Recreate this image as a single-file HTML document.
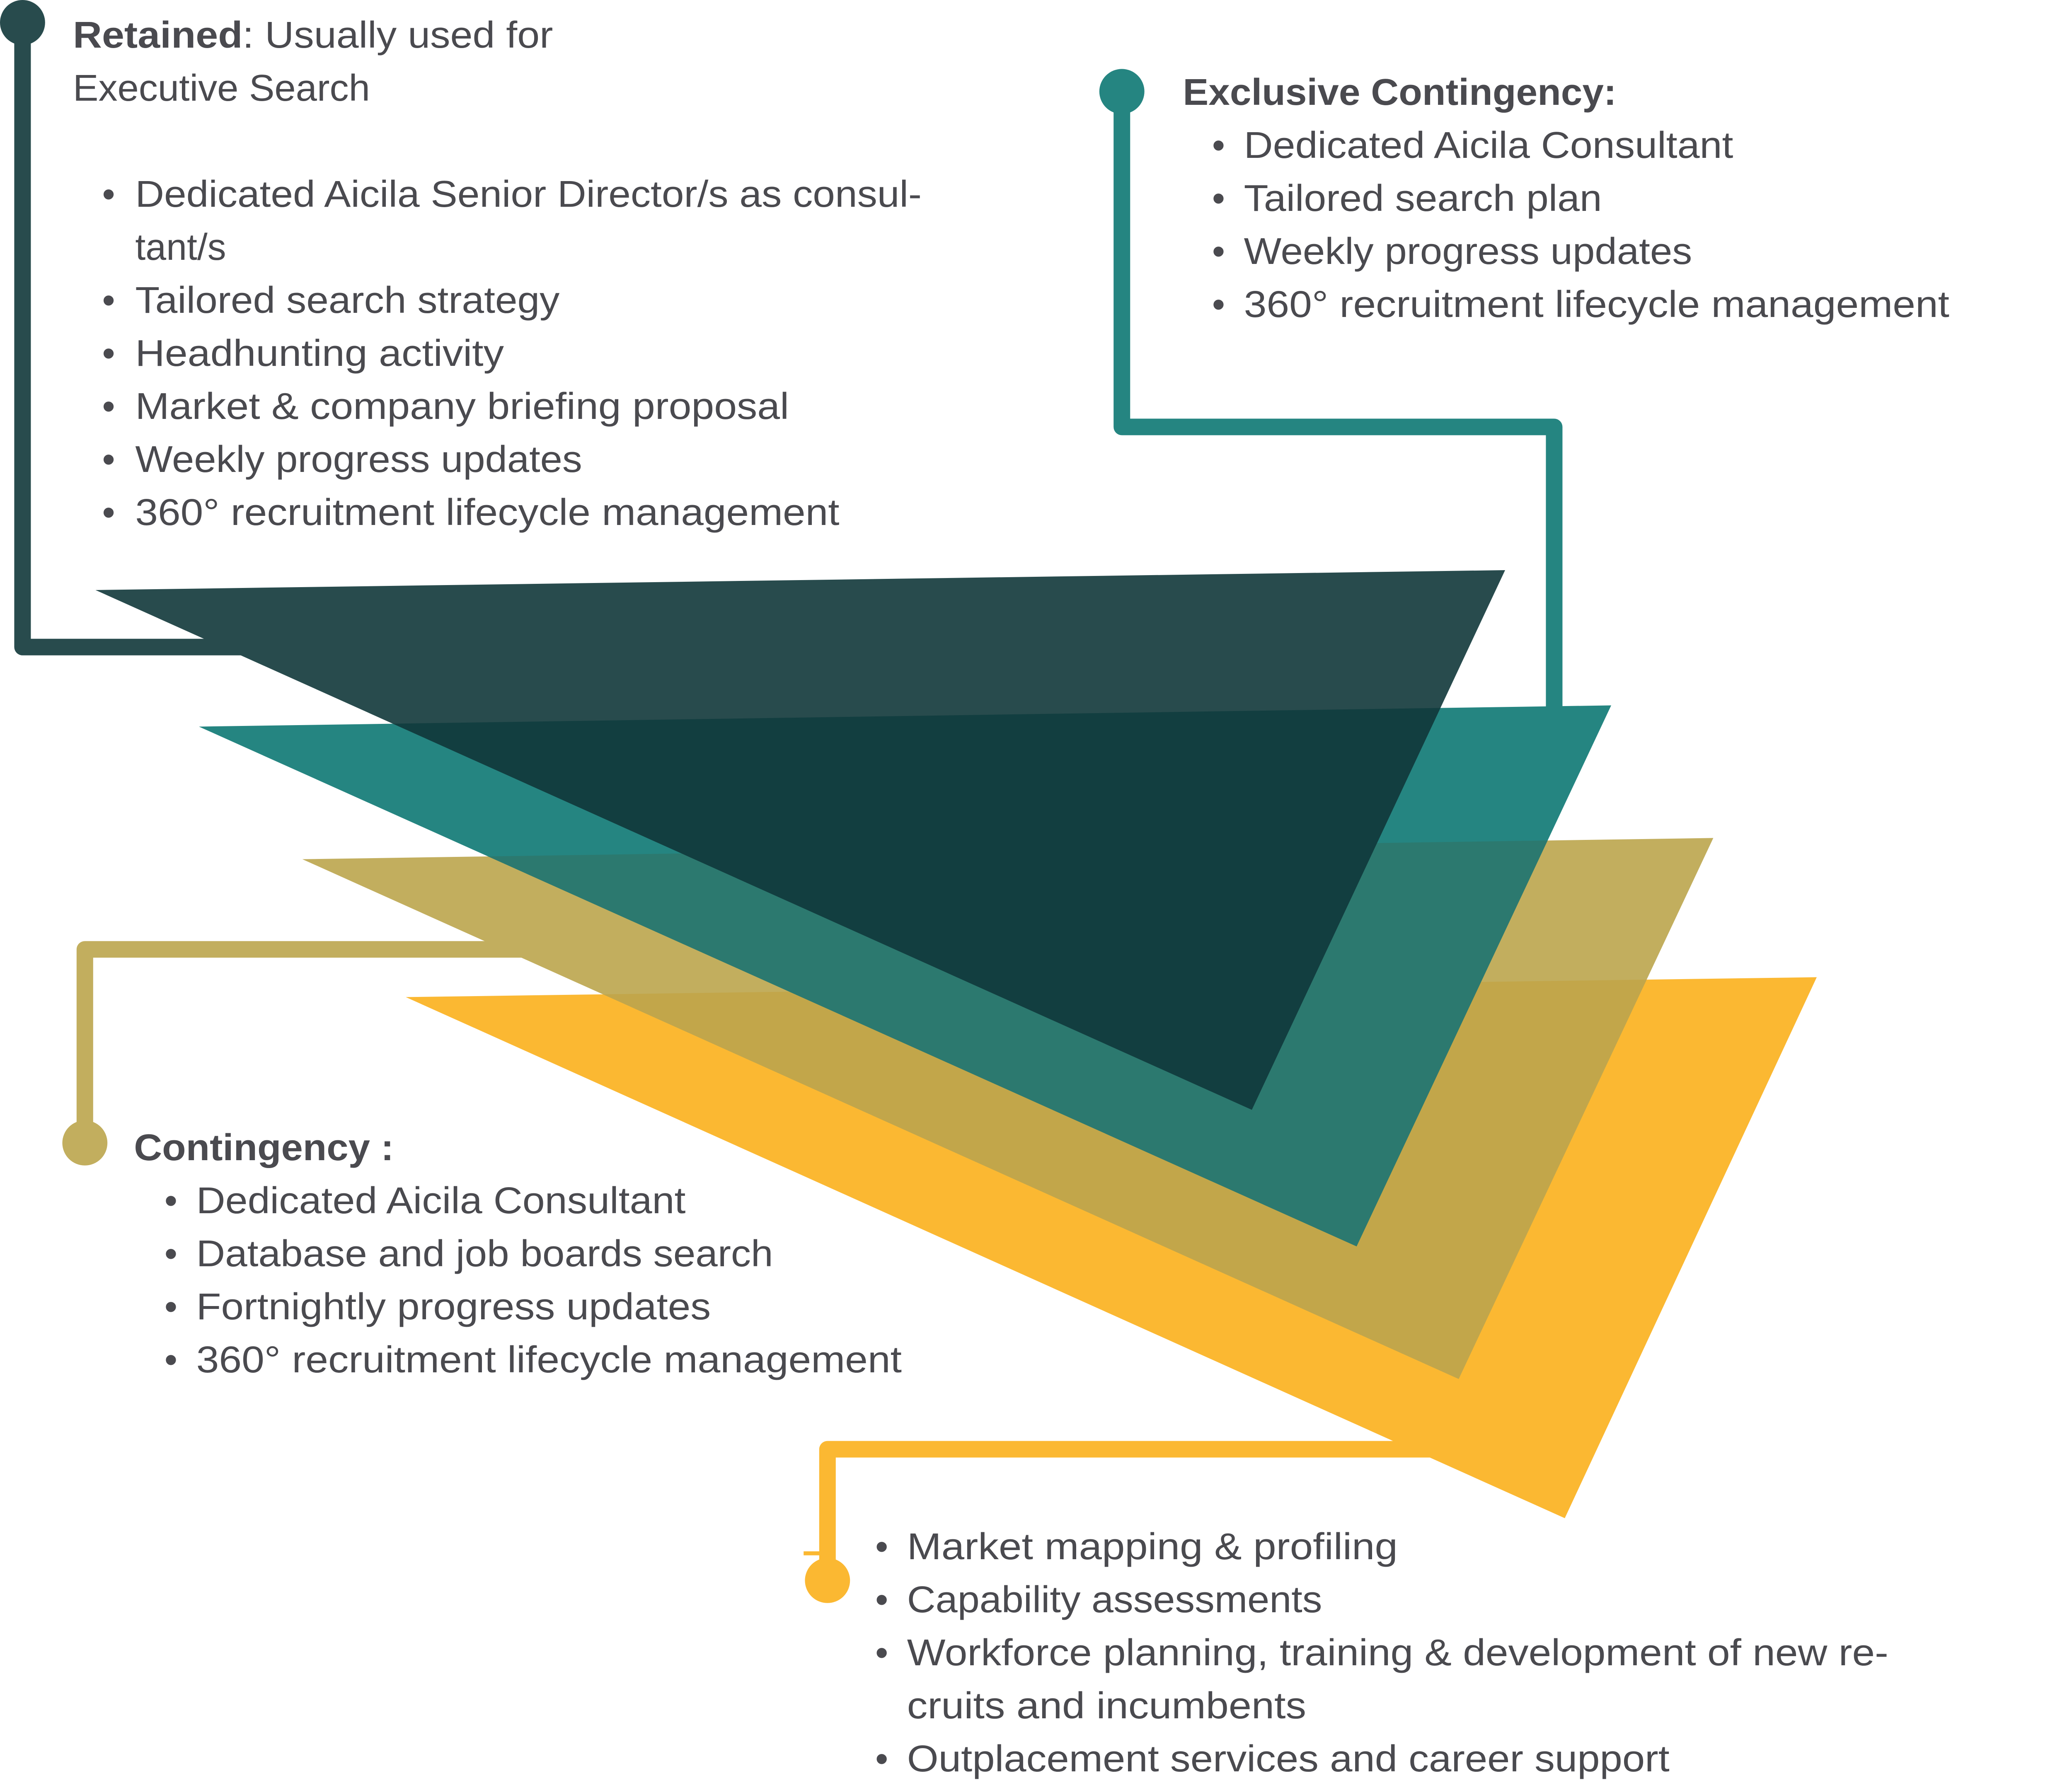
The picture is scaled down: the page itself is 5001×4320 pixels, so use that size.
<!DOCTYPE html>
<html><head><meta charset="utf-8"><style>
html,body{margin:0;padding:0;background:#fff;}
svg{display:block;}
text{font-family:"Liberation Sans","DejaVu Sans",sans-serif;font-size:28px;fill:#4a4a4f;}
.b{font-weight:bold;}
</style></head><body>
<svg width="5001" height="4320" viewBox="0 0 1562.8 1350" preserveAspectRatio="none" xmlns="http://www.w3.org/2000/svg">
<defs>
<clipPath id="cY"><polygon points="306,752 1370,737 1180,1145"/></clipPath>
<clipPath id="cOY"><polygon points="306,752 1370,737 1180,1145"/><polygon points="228,648 1292,632 1100,1040"/></clipPath>
<clipPath id="cTOY"><polygon points="306,752 1370,737 1180,1145"/><polygon points="228,648 1292,632 1100,1040"/><polygon points="150,548 1215,532 1023,940"/></clipPath>
</defs>
<g fill="none" stroke-width="12.5" stroke-linejoin="round">
<path d="M17,30 V488 H190" stroke="#284b4d"/>
<path d="M846,80 V322 H1172 V540" stroke="#258581"/>
<path d="M64,850 V716 H400" stroke="#c2ae5e"/>
<path d="M624,1180 V1093 H1085" stroke="#fbb832"/>
</g>
<circle cx="17" cy="17" r="17" fill="#284b4d"/>
<circle cx="846" cy="69" r="17" fill="#258581"/>
<circle cx="64" cy="862" r="17" fill="#c2ae5e"/>
<circle cx="624" cy="1192" r="17" fill="#fbb832"/>
<rect x="606" y="1170" width="20" height="3" fill="#fbb832"/>

<polygon points="306,752 1370,737 1180,1145" fill="#fbb832"/>
<polygon points="228,648 1292,632 1100,1040" fill="#c2ae5e"/>
<polygon points="228,648 1292,632 1100,1040" fill="#c2a64a" clip-path="url(#cY)"/>
<polygon points="150,548 1215,532 1023,940" fill="#258581"/>
<polygon points="150,548 1215,532 1023,940" fill="#2c796f" clip-path="url(#cOY)"/>
<polygon points="72,445 1135,430 944,837" fill="#284b4d"/>
<polygon points="72,445 1135,430 944,837" fill="#123e40" clip-path="url(#cTOY)"/>

<text x="55" y="36" textLength="362" lengthAdjust="spacingAndGlyphs"><tspan class="b">Retained</tspan>: Usually used for</text>
<text x="55" y="76" textLength="224" lengthAdjust="spacingAndGlyphs">Executive Search</text>
<g>
<text x="77" y="156">•</text><text x="102" y="156" textLength="593" lengthAdjust="spacingAndGlyphs">Dedicated Aicila Senior Director/s as consul-</text>
<text x="102" y="196">tant/s</text>
<text x="77" y="236">•</text><text x="102" y="236" textLength="320" lengthAdjust="spacingAndGlyphs">Tailored search strategy</text>
<text x="77" y="276">•</text><text x="102" y="276" textLength="278" lengthAdjust="spacingAndGlyphs">Headhunting activity</text>
<text x="77" y="316">•</text><text x="102" y="316" textLength="493" lengthAdjust="spacingAndGlyphs">Market &amp; company briefing proposal</text>
<text x="77" y="356">•</text><text x="102" y="356" textLength="337" lengthAdjust="spacingAndGlyphs">Weekly progress updates</text>
<text x="77" y="396">•</text><text x="102" y="396" textLength="531" lengthAdjust="spacingAndGlyphs">360° recruitment lifecycle management</text>
</g>

<text x="892" y="79" class="b" textLength="327" lengthAdjust="spacingAndGlyphs">Exclusive Contingency:</text>
<text x="914" y="119">•</text><text x="938" y="119" textLength="369" lengthAdjust="spacingAndGlyphs">Dedicated Aicila Consultant</text>
<text x="914" y="159">•</text><text x="938" y="159" textLength="270" lengthAdjust="spacingAndGlyphs">Tailored search plan</text>
<text x="914" y="199">•</text><text x="938" y="199" textLength="338" lengthAdjust="spacingAndGlyphs">Weekly progress updates</text>
<text x="914" y="239">•</text><text x="938" y="239" textLength="532" lengthAdjust="spacingAndGlyphs">360° recruitment lifecycle management</text>

<text x="101" y="875" class="b" textLength="196" lengthAdjust="spacingAndGlyphs">Contingency :</text>
<text x="124" y="915">•</text><text x="148" y="915" textLength="369" lengthAdjust="spacingAndGlyphs">Dedicated Aicila Consultant</text>
<text x="124" y="955">•</text><text x="148" y="955" textLength="435" lengthAdjust="spacingAndGlyphs">Database and job boards search</text>
<text x="124" y="995">•</text><text x="148" y="995" textLength="388" lengthAdjust="spacingAndGlyphs">Fortnightly progress updates</text>
<text x="124" y="1035">•</text><text x="148" y="1035" textLength="532" lengthAdjust="spacingAndGlyphs">360° recruitment lifecycle management</text>

<text x="660" y="1176">•</text><text x="684" y="1176" textLength="370" lengthAdjust="spacingAndGlyphs">Market mapping &amp; profiling</text>
<text x="660" y="1216">•</text><text x="684" y="1216" textLength="313" lengthAdjust="spacingAndGlyphs">Capability assessments</text>
<text x="660" y="1256">•</text><text x="684" y="1256" textLength="740" lengthAdjust="spacingAndGlyphs">Workforce planning, training &amp; development of new re-</text>
<text x="684" y="1296" textLength="301" lengthAdjust="spacingAndGlyphs">cruits and incumbents</text>
<text x="660" y="1336">•</text><text x="684" y="1336" textLength="575" lengthAdjust="spacingAndGlyphs">Outplacement services and career support</text>
</svg>
</body></html>
